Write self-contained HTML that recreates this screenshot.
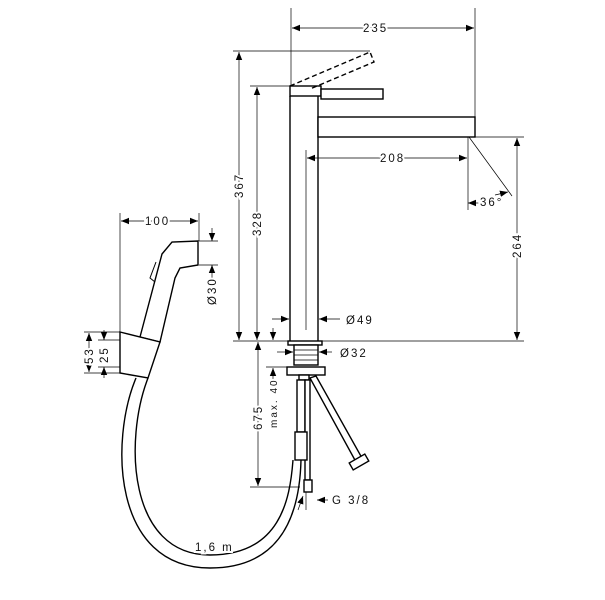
<!DOCTYPE html>
<html><head><style>
html,body{margin:0;padding:0;background:#fff;}
svg{display:block;}
text{font-family:"Liberation Sans",sans-serif;font-size:11.5px;fill:#111;letter-spacing:2px;stroke:#fff;stroke-width:4px;paint-order:stroke;}
</style></head><body>
<svg width="605" height="600" viewBox="0 0 605 600" xmlns="http://www.w3.org/2000/svg">
<defs>
<marker id="a" viewBox="0 0 10 10" refX="10" refY="5" markerWidth="8" markerHeight="8" orient="auto-start-reverse" markerUnits="userSpaceOnUse"><path d="M0,1 L10,5 L0,9 z" fill="#000"/></marker>
</defs>
<g stroke="#000" fill="none" stroke-width="0.7">
<line x1="291" y1="8" x2="291" y2="88"/>
<line x1="475" y1="8" x2="475" y2="117"/>
<line x1="233" y1="51" x2="370" y2="51"/>
<line x1="250" y1="86" x2="290" y2="86"/>
<line x1="306" y1="150" x2="306" y2="330"/>
<line x1="468" y1="137" x2="468" y2="210"/>
<line x1="470" y1="137" x2="524" y2="137"/>
<line x1="233" y1="341" x2="524" y2="341"/>
<line x1="250" y1="487" x2="300" y2="487"/>
<line x1="469" y1="137" x2="512" y2="196"/>
<line x1="120" y1="213" x2="120" y2="332"/>
<line x1="199" y1="213" x2="199" y2="241"/>
<line x1="199" y1="241" x2="218" y2="241"/>
<line x1="199" y1="265" x2="218" y2="265"/>
<line x1="84" y1="332" x2="120" y2="332"/>
<line x1="84" y1="373" x2="120" y2="373"/>
<line x1="98" y1="340" x2="120" y2="340"/>
<line x1="98" y1="367" x2="120" y2="367"/>
<line x1="266" y1="367" x2="290" y2="367"/>
<line x1="306" y1="490" x2="306" y2="510"/>
<line x1="292" y1="28" x2="474" y2="28" marker-start="url(#a)" marker-end="url(#a)"/>
<line x1="239" y1="52" x2="239" y2="340" marker-start="url(#a)" marker-end="url(#a)"/>
<line x1="257" y1="87" x2="257" y2="340" marker-start="url(#a)" marker-end="url(#a)"/>
<line x1="307" y1="158" x2="467" y2="158" marker-start="url(#a)" marker-end="url(#a)"/>
<line x1="517" y1="138" x2="517" y2="340" marker-start="url(#a)" marker-end="url(#a)"/>
<line x1="258" y1="342" x2="258" y2="486" marker-start="url(#a)" marker-end="url(#a)"/>
<line x1="121" y1="221" x2="198" y2="221" marker-start="url(#a)" marker-end="url(#a)"/>
<line x1="89" y1="333" x2="89" y2="372" marker-start="url(#a)" marker-end="url(#a)"/>
<line x1="273" y1="368" x2="273" y2="390" marker-start="url(#a)"/>
<line x1="273" y1="328" x2="273" y2="340" marker-end="url(#a)"/>
<line x1="104" y1="330" x2="104" y2="340" marker-end="url(#a)"/>
<line x1="104" y1="378" x2="104" y2="367" marker-end="url(#a)"/>
<line x1="212" y1="228" x2="212" y2="241" marker-end="url(#a)"/>
<line x1="212" y1="280" x2="212" y2="265" marker-end="url(#a)"/>
<line x1="272" y1="319" x2="289" y2="319" marker-end="url(#a)"/>
<line x1="340" y1="319" x2="319" y2="319" marker-end="url(#a)"/>
<line x1="277" y1="352" x2="293" y2="352" marker-end="url(#a)"/>
<line x1="332" y1="352" x2="319" y2="352" marker-end="url(#a)"/>
<line x1="480" y1="203" x2="468" y2="203" marker-end="url(#a)"/>
<line x1="495" y1="195" x2="508" y2="192" marker-end="url(#a)"/>
<line x1="328" y1="500" x2="317" y2="500" marker-end="url(#a)"/>
<line x1="298" y1="510" x2="303" y2="496" marker-end="url(#a)"/>
</g>
<g stroke="#000" fill="#fff" stroke-width="1.4">
<line x1="290" y1="96" x2="290" y2="341"/>
<line x1="318" y1="96" x2="318" y2="341"/>
<rect x="290" y="86" width="31" height="10"/>
<rect x="321" y="89" width="62" height="10"/>
<rect x="318" y="117" width="157" height="20"/>
<path d="M290,86 L370,52 L374,62 L310,89" fill="none" stroke-dasharray="5,3"/>
<rect x="288" y="341" width="34" height="4"/>
<rect x="294" y="345" width="24" height="20"/>
<line x1="294" y1="350" x2="318" y2="350" stroke-width="0.8"/>
<line x1="294" y1="355" x2="318" y2="355" stroke-width="0.8"/>
<line x1="294" y1="360" x2="318" y2="360" stroke-width="0.8"/>
<rect x="287" y="367" width="38" height="8"/>
<rect x="299" y="375" width="10" height="5"/>
<rect x="297" y="380" width="8" height="52"/>
<rect x="305" y="380" width="5" height="100"/>
<rect x="295" y="432" width="12" height="28"/>
<rect x="304" y="480" width="8" height="12"/>
<path d="M310,378 L356,462 L362,458 L316,376 Z"/>
<rect x="350" y="458" width="18" height="8" transform="rotate(-30 359 462)"/>
<path d="M136,378 C110,440 112,568 210,568 C290,568 300,500 301,460" fill="none"/>
<path d="M148,378 C124,440 128,555 210,555 C280,555 290,500 293,460" fill="none"/>
<path d="M140,337 L162,254 L172,242 L198,241 L198,265 L180,268 L175,278 L160,342 Z"/>
<path d="M156,262 L150,278 L155,282" fill="none" stroke-width="1"/>
<path d="M120,332 L160,342 L148,378 L120,373 Z"/>
</g>
<g>
<text x="363" y="32">235</text>
<text x="380" y="162">208</text>
<text x="480" y="206">36°</text>
<text x="145" y="225">100</text>
<text x="346" y="324">Ø49</text>
<text x="340" y="357">Ø32</text>
<text x="332" y="504">G 3/8</text>
<text x="195" y="551">1,6 m</text>
<text transform="translate(243,198) rotate(-90)">367</text>
<text transform="translate(261,236) rotate(-90)">328</text>
<text transform="translate(521,258) rotate(-90)">264</text>
<text transform="translate(262,430) rotate(-90)">675</text>
<text transform="translate(277,428) rotate(-90)" style="font-size:10px">max. 40</text>
<text transform="translate(216,305) rotate(-90)">Ø30</text>
<text transform="translate(93,364) rotate(-90)">53</text>
<text transform="translate(108,363) rotate(-90)">25</text>
</g>
</svg>
</body></html>
